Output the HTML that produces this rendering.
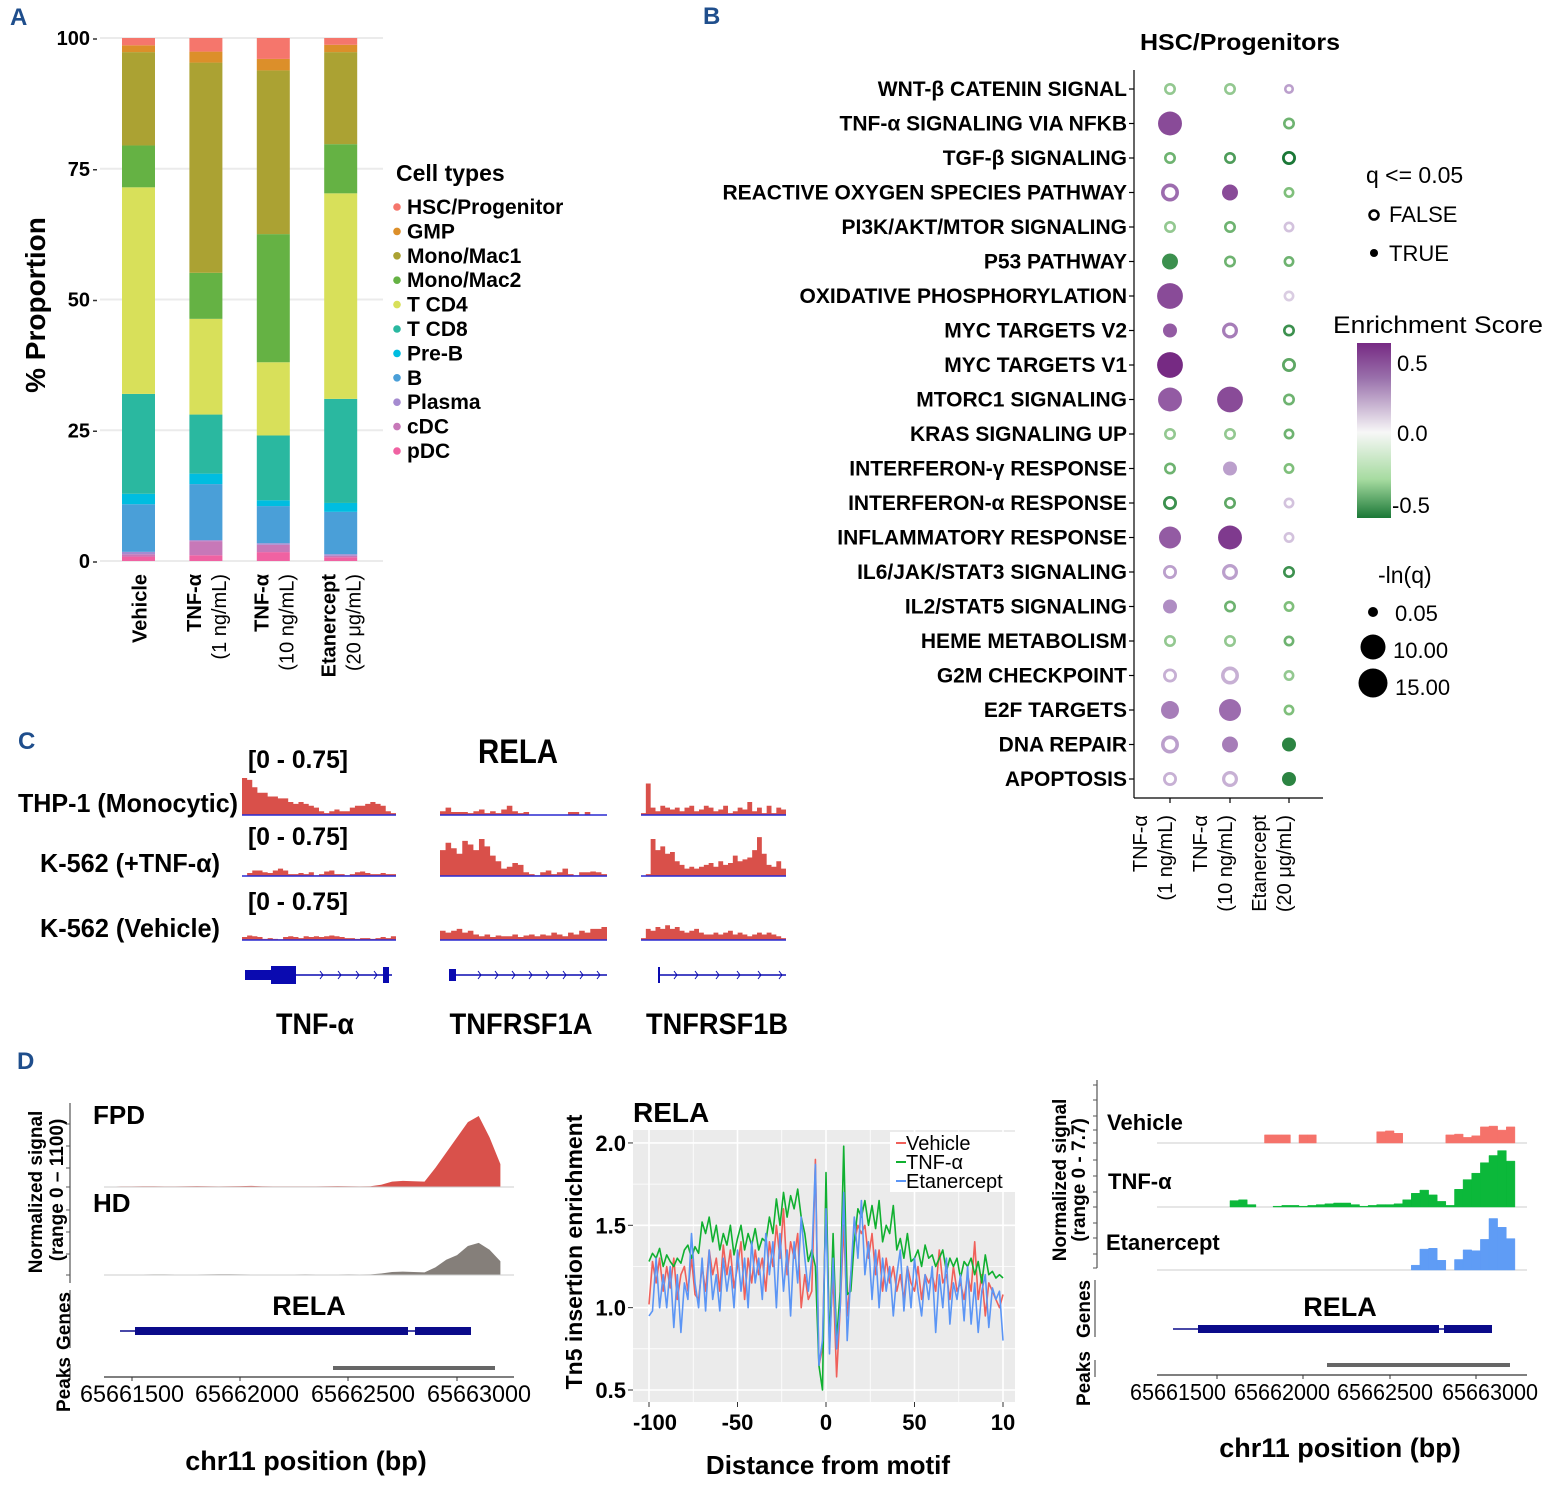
<!DOCTYPE html>
<html><head><meta charset="utf-8"><style>
html,body{margin:0;padding:0;background:#fff;}
svg{display:block;font-family:"Liberation Sans",Arial,sans-serif;}
.b{font-weight:bold;}
</style></head><body>
<svg id="fig" xmlns="http://www.w3.org/2000/svg" width="1552" height="1494" viewBox="0 0 1552 1494">
<defs>
<linearGradient id="esgrad" x1="0" y1="0" x2="0" y2="1">
<stop offset="0" stop-color="#762a83"/><stop offset="0.2" stop-color="#9970ab"/><stop offset="0.51" stop-color="#f7f7f7"/><stop offset="0.78" stop-color="#a6dba0"/><stop offset="1" stop-color="#1b7837"/>
</linearGradient>
</defs>
<text x="10" y="25" font-size="24" class="b" fill="#1f4e8c">A</text>
<text x="703" y="24" font-size="24" class="b" fill="#1f4e8c">B</text>
<text x="18" y="749" font-size="24" class="b" fill="#1f4e8c">C</text>
<text x="17" y="1069" font-size="24" class="b" fill="#1f4e8c">D</text>

<g id="pa">
<text transform="translate(45,305) rotate(-90)" text-anchor="middle" font-size="28" class="b">% Proportion</text>
<text x="396" y="181" font-size="23" class="b">Cell types</text>
</g>

<g id="pb">
<text x="1240" y="50" text-anchor="middle" font-size="23" class="b" textLength="200" lengthAdjust="spacingAndGlyphs">HSC/Progenitors</text>
<line x1="1134" y1="70" x2="1134" y2="798" stroke="#000" stroke-width="1.2"/>
<line x1="1134" y1="798" x2="1323" y2="798" stroke="#000" stroke-width="1.2"/>
<text x="1366" y="183" font-size="23">q &lt;= 0.05</text>
<circle cx="1374" cy="215" r="4.5" fill="#fff" stroke="#000" stroke-width="2.5"/>
<text x="1389" y="222" font-size="22">FALSE</text>
<circle cx="1374" cy="253" r="4" fill="#000"/>
<text x="1389" y="261" font-size="22">TRUE</text>
<text x="1333" y="333" font-size="24" textLength="210" lengthAdjust="spacingAndGlyphs">Enrichment Score</text>
<rect x="1357" y="343" width="34" height="175" fill="url(#esgrad)"/>
<text x="1397" y="371" font-size="22">0.5</text>
<text x="1397" y="441" font-size="22">0.0</text>
<text x="1392" y="513" font-size="22">-0.5</text>
<text x="1378" y="583" font-size="23">-ln(q)</text>
<circle cx="1373" cy="612" r="5" fill="#000"/>
<text x="1395" y="621" font-size="22">0.05</text>
<circle cx="1373" cy="647" r="12.5" fill="#000"/>
<text x="1393" y="658" font-size="22">10.00</text>
<circle cx="1373" cy="683" r="14.5" fill="#000"/>
<text x="1395" y="695" font-size="22">15.00</text>
</g>

<g id="pc">
<text x="518" y="763" text-anchor="middle" font-size="34" class="b" textLength="80" lengthAdjust="spacingAndGlyphs">RELA</text>
<text x="248" y="768" font-size="25" class="b" textLength="100" lengthAdjust="spacingAndGlyphs">[0 - 0.75]</text>
<text x="248" y="845" font-size="25" class="b" textLength="100" lengthAdjust="spacingAndGlyphs">[0 - 0.75]</text>
<text x="248" y="910" font-size="25" class="b" textLength="100" lengthAdjust="spacingAndGlyphs">[0 - 0.75]</text>
<text x="238" y="812" text-anchor="end" font-size="26" class="b" textLength="220" lengthAdjust="spacingAndGlyphs">THP-1 (Monocytic)</text>
<text x="220" y="872" text-anchor="end" font-size="26" class="b" textLength="180" lengthAdjust="spacingAndGlyphs">K-562 (+TNF-α)</text>
<text x="220" y="937" text-anchor="end" font-size="26" class="b" textLength="180" lengthAdjust="spacingAndGlyphs">K-562 (Vehicle)</text>
<text x="315" y="1034" text-anchor="middle" font-size="30" class="b" textLength="78" lengthAdjust="spacingAndGlyphs">TNF-α</text>
<text x="521" y="1034" text-anchor="middle" font-size="30" class="b" textLength="143" lengthAdjust="spacingAndGlyphs">TNFRSF1A</text>
<text x="717" y="1034" text-anchor="middle" font-size="30" class="b" textLength="142" lengthAdjust="spacingAndGlyphs">TNFRSF1B</text>
</g>

<g id="pdl">
<text transform="translate(42,1192) rotate(-90)" text-anchor="middle" font-size="19" class="b">Normalized signal</text>
<text transform="translate(63,1190) rotate(-90)" text-anchor="middle" font-size="19" class="b">(range 0 – 1100)</text>
<line x1="70" y1="1103" x2="70" y2="1283" stroke="#555" stroke-width="1.2"/>
<line x1="70" y1="1290" x2="70" y2="1348" stroke="#555" stroke-width="1.2"/>
<line x1="70" y1="1364" x2="70" y2="1380" stroke="#555" stroke-width="1.2"/>
<text transform="translate(70,1350) rotate(-90)" font-size="19" class="b">Genes</text>
<text transform="translate(70,1412) rotate(-90)" font-size="19" class="b">Peaks</text>
<text x="93" y="1124" font-size="26" class="b">FPD</text>
<text x="93" y="1212" font-size="26" class="b">HD</text>
<text x="309" y="1315" text-anchor="middle" font-size="27" class="b">RELA</text>
<line x1="104" y1="1377" x2="514" y2="1377" stroke="#333" stroke-width="1.2"/>
<text x="132" y="1402" text-anchor="middle" font-size="24" textLength="104" lengthAdjust="spacingAndGlyphs">65661500</text>
<text x="247" y="1402" text-anchor="middle" font-size="24" textLength="104" lengthAdjust="spacingAndGlyphs">65662000</text>
<text x="363" y="1402" text-anchor="middle" font-size="24" textLength="104" lengthAdjust="spacingAndGlyphs">65662500</text>
<text x="479" y="1402" text-anchor="middle" font-size="24" textLength="104" lengthAdjust="spacingAndGlyphs">65663000</text>
<text x="306" y="1470" text-anchor="middle" font-size="27" class="b">chr11 position (bp)</text>
</g>

<g id="pdm">
<rect x="633" y="1130" width="382" height="272" fill="#ebebeb"/>
<text x="633" y="1122" font-size="28" class="b">RELA</text>
<text transform="translate(582,1252) rotate(-90)" text-anchor="middle" font-size="23" class="b">Tn5 insertion enrichment</text>
<text x="828" y="1474" text-anchor="middle" font-size="26" class="b">Distance from motif</text>
</g>

<g id="pdr">
<text transform="translate(1066,1180) rotate(-90)" text-anchor="middle" font-size="19" class="b">Normalized signal</text>
<text transform="translate(1085,1180) rotate(-90)" text-anchor="middle" font-size="19" class="b">(range 0 - 7.7)</text>
<line x1="1097" y1="1080" x2="1097" y2="1268" stroke="#555" stroke-width="1.2"/>
<line x1="1095" y1="1280" x2="1095" y2="1337" stroke="#555" stroke-width="1.2"/>
<line x1="1095" y1="1360" x2="1095" y2="1377" stroke="#555" stroke-width="1.2"/>
<text transform="translate(1090,1338) rotate(-90)" font-size="19" class="b">Genes</text>
<text transform="translate(1090,1406) rotate(-90)" font-size="19" class="b">Peaks</text>
<text x="1107" y="1130" font-size="22" class="b">Vehicle</text>
<text x="1108" y="1189" font-size="22" class="b">TNF-α</text>
<text x="1106" y="1250" font-size="22" class="b">Etanercept</text>
<text x="1340" y="1316" text-anchor="middle" font-size="27" class="b">RELA</text>
<line x1="1157" y1="1375" x2="1527" y2="1375" stroke="#333" stroke-width="1.2"/>
<text x="1178" y="1400" text-anchor="middle" font-size="23" textLength="96" lengthAdjust="spacingAndGlyphs">65661500</text>
<text x="1282" y="1400" text-anchor="middle" font-size="23" textLength="96" lengthAdjust="spacingAndGlyphs">65662000</text>
<text x="1385" y="1400" text-anchor="middle" font-size="23" textLength="96" lengthAdjust="spacingAndGlyphs">65662500</text>
<text x="1490" y="1400" text-anchor="middle" font-size="23" textLength="96" lengthAdjust="spacingAndGlyphs">65663000</text>
<text x="1340" y="1457" text-anchor="middle" font-size="27" class="b">chr11 position (bp)</text>
</g>
</svg>
<script>
// ---------- Panel A data ----------
const cellTypes = ['HSC/Progenitor','GMP','Mono/Mac1','Mono/Mac2','T CD4','T CD8','Pre-B','B','Plasma','cDC','pDC'];
const cellColors = ['#f5766c','#dc8f2a','#aba233','#65b244','#d8e05a','#2ab8a0','#00bde0','#4a9fd8','#a58bd0','#c778b8','#f062a2'];
const conditionsA = ['Vehicle','TNF-α 1','TNF-α 10','Etanercept'];
const vehicleVals = [1.4,1.3,17.85,8.0,39.5,19.1,2.0,9.1,0.45,0.45,0.85];
const tnf1Vals = [2.6,2.1,40.2,8.8,18.3,11.3,2.0,10.7,0.2,2.7,1.1];
const tnf10Vals = [4.0,2.2,31.3,24.5,14.0,12.4,1.1,7.1,0.3,1.4,1.7];
const etanVals = [1.3,1.4,17.6,9.4,39.3,19.9,1.7,8.1,0.3,0.3,0.7];
const yTicksA = [0,25,50,75,100];

// ---------- Panel B data ----------
const pathways = ['WNT-β CATENIN SIGNAL','TNF-α  SIGNALING VIA NFKB','TGF-β SIGNALING','REACTIVE OXYGEN SPECIES PATHWAY','PI3K/AKT/MTOR SIGNALING','P53 PATHWAY','OXIDATIVE PHOSPHORYLATION','MYC TARGETS V2','MYC TARGETS V1','MTORC1 SIGNALING','KRAS SIGNALING UP','INTERFERON-γ RESPONSE','INTERFERON-α  RESPONSE','INFLAMMATORY RESPONSE','IL6/JAK/STAT3 SIGNALING','IL2/STAT5 SIGNALING','HEME METABOLISM','G2M CHECKPOINT','E2F TARGETS','DNA REPAIR','APOPTOSIS'];
const score1 = [-0.25,0.5,-0.35,0.4,-0.25,-0.5,0.5,0.45,0.6,0.45,-0.25,-0.35,-0.5,0.45,0.25,0.3,-0.25,0.2,0.35,0.25,0.2];
const sig1 = [0,1,0,0,0,1,1,1,1,1,0,0,0,1,0,1,0,0,1,0,0];
const size1 = [0.75,12,0.75,4.7,0.75,3,15,1.7,15,12,0.75,0.75,1.7,9.3,1.7,1.7,0.75,1.7,4.7,4.7,1.7];
const score2 = [-0.25,null,-0.45,0.5,-0.35,-0.35,null,0.35,null,0.5,-0.25,0.25,-0.4,0.55,0.25,-0.35,-0.25,0.2,0.4,0.35,0.2];
const sig2 = [0,0,0,1,0,0,0,0,0,1,0,1,0,1,0,0,0,0,1,1,0];
const size2 = [0.75,0,0.75,3,0.75,0.75,0,3,0,15,0.75,1.7,0.75,12,3,0.75,0.75,4.7,9.3,3,3];
const score3 = [0.25,-0.35,-0.6,-0.3,0.15,-0.35,0.12,-0.5,-0.4,-0.35,-0.35,-0.3,0.15,0.15,-0.5,-0.3,-0.35,-0.25,-0.3,-0.55,-0.55];
const sig3 = [0,0,0,0,0,0,0,0,0,0,0,0,0,0,0,0,0,0,0,1,1];
const size3 = [0.2,0.75,1.7,0.4,0.4,0.4,0.4,0.75,1.7,0.75,0.4,0.4,0.4,0.4,0.75,0.4,0.4,0.4,0.4,1.7,1.7];
const conditionsB = [['TNF-α','(1 ng/mL)'],['TNF-α','(10 ng/mL)'],['Etanercept','(20 μg/mL)']];

// ---------- Panel C data ----------
const thpTnf = [1,0.95,0.75,0.6,0.6,0.5,0.5,0.45,0.45,0.35,0.3,0.35,0.3,0.25,0.2,0.1,0.05,0.1,0.15,0.1,0.1,0.2,0.25,0.25,0.3,0.35,0.3,0.25,0.1,0.05];
const thp1a = [0.1,0.2,0.08,0.08,0.08,0.05,0.1,0.15,0.05,0.1,0.05,0.15,0.25,0.1,0.05,0.08,0,0,0,0,0,0,0,0.08,0.08,0,0.08,0,0,0];
const thp1b = [0.05,0.85,0.2,0.1,0.25,0.2,0.15,0.2,0.1,0.2,0.25,0.1,0.15,0.25,0.2,0.1,0.15,0.25,0.05,0.1,0.2,0.15,0.35,0.1,0.2,0.05,0.25,0.05,0.2,0.15];
const kTnfTnf = [0,0.08,0.15,0.15,0.1,0.08,0.15,0.2,0.15,0.05,0.05,0.08,0.05,0.1,0.02,0.05,0.12,0.15,0.05,0.05,0.02,0.05,0.1,0.12,0.08,0.05,0.05,0.08,0.05,0.05];
const kTnf1a = [0.7,0.9,0.75,0.6,0.95,0.85,0.7,1.0,0.8,0.55,0.4,0.2,0.25,0.35,0.3,0.1,0.05,0.02,0.1,0.15,0.05,0.1,0.2,0.05,0.02,0.1,0.1,0.12,0.1,0.05];
const kTnf1b = [0,0.05,1.0,0.7,0.8,0.6,0.65,0.4,0.3,0.2,0.25,0.2,0.25,0.3,0.35,0.25,0.4,0.3,0.35,0.55,0.4,0.45,0.5,0.7,1.05,0.6,0.3,0.25,0.4,0.2];
const kVehTnf = [0.08,0.12,0.1,0.08,0.03,0.05,0.03,0.02,0.08,0.1,0.08,0.05,0.1,0.08,0.1,0.08,0.1,0.12,0.1,0.08,0.05,0.05,0.03,0.05,0.05,0.03,0.05,0.08,0.05,0.1];
const kVeh1a = [0.25,0.2,0.25,0.3,0.2,0.25,0.15,0.1,0.15,0.08,0.12,0.1,0.1,0.15,0.08,0.12,0.15,0.1,0.15,0.12,0.2,0.15,0.1,0.2,0.15,0.25,0.2,0.3,0.3,0.35];
const kVeh1b = [0.05,0.3,0.25,0.35,0.3,0.4,0.3,0.35,0.25,0.2,0.25,0.3,0.2,0.15,0.15,0.2,0.15,0.2,0.25,0.15,0.2,0.15,0.1,0.15,0.2,0.15,0.2,0.15,0.1,0.05];

// ---------- Panel D left data ----------
const fpdSignal = [5,8,8,10,10,8,8,10,12,10,8,10,12,14,10,8,8,8,8,8,10,12,10,8,10,30,70,80,75,70,250,450,650,850,930,650,300];
const hdSignal = [3,5,5,6,8,8,6,5,6,8,10,10,8,6,6,5,5,6,8,6,5,6,8,6,8,20,40,45,40,35,100,200,260,380,420,330,180];
// ---------- Panel D middle data ----------
const motifPos = Array.from({length:101},(_,i)=>-100+2*i);
const vehicleEnrich = [1.02,1.28,1.15,1.3,1.1,1.25,1.12,1.3,1.05,1.2, 1.25,1.1,1.3,1.08,1.05,1.25,1.1,1.35,1.2,1.3, 1.1,1.38,1.2,1.35,1.12,1.25,1.4,1.05,1.3,1.15, 1.35,1.2,1.3,1.1,1.4,1.25,1.5,1.3,1.6,1.2, 1.4,1.3,1.45,1.0,1.2,1.05,1.1,1.9,0.65,0.75, 1.7,0.8,1.2,0.58,1.0,1.5,0.95,1.2,1.4,1.5, 1.45,1.5,1.3,1.45,1.2,1.35,1.1,1.3,1.15,1.25, 1.1,1.2,1.05,1.25,1.15,1.1,1.25,1.05,1.2,1.15, 1.2,1.1,1.35,1.15,1.2,1.05,1.25,1.1,1.15,1.05, 1.2,1.1,1.4,1.05,1.2,0.95,1.15,1.1,1.05,1.0,1.08];
const tnfEnrich = [1.28,1.33,1.3,1.36,1.25,1.32,1.28,1.25,1.3,1.27, 1.35,1.38,1.3,1.37,1.33,1.52,1.45,1.55,1.4,1.5, 1.35,1.45,1.38,1.5,1.32,1.42,1.5,1.35,1.45,1.38, 1.48,1.35,1.42,1.4,1.55,1.45,1.66,1.5,1.7,1.55, 1.68,1.6,1.72,1.55,1.45,1.28,1.35,1.25,0.65,0.5, 1.82,0.75,1.45,0.8,1.1,1.98,1.08,1.1,1.4,1.6, 1.55,1.65,1.5,1.62,1.48,1.65,1.4,1.5,1.45,1.62, 1.35,1.42,1.3,1.45,1.28,1.3,1.35,1.25,1.38,1.3, 1.32,1.25,1.3,1.35,1.22,1.3,1.25,1.3,1.18,1.28, 1.25,1.3,1.2,1.28,1.15,1.32,1.2,1.22,1.18,1.2,1.18];
const etanEnrich = [0.95,0.98,1.3,1.0,1.2,1.0,1.25,0.88,1.2,0.85, 1.15,1.05,1.45,1.15,1.0,1.3,0.98,1.35,1.05,1.2, 0.98,1.3,1.1,1.25,1.0,1.35,1.1,1.3,1.0,1.4, 1.15,1.3,1.05,1.45,1.2,1.4,1.0,1.45,1.1,1.35, 0.95,1.4,1.15,1.55,1.3,1.1,1.3,1.87,0.65,0.8, 1.6,0.72,1.3,0.75,1.0,1.7,0.8,1.2,1.55,1.3, 1.65,1.2,1.4,1.05,1.35,1.0,1.3,1.1,1.25,0.95, 1.2,1.35,0.98,1.25,1.0,1.3,1.1,0.95,1.2,1.05, 1.25,0.85,1.2,1.0,1.3,0.9,1.15,1.05,1.2,0.92, 1.25,0.9,1.15,0.85,1.1,1.2,0.88,1.12,1.05,1.1,0.8];
const yTicksM = [0.5,1.0,1.5,2.0];
const xTicksM = [-100,-50,0,50,100];
const xTickLabelsM = ['-100','-50','0','50','10'];
// ---------- Panel D right data ----------
const vehSignalR = [0,0,0,0,0,0,0,0,0,0,0,0,1.0,1.0,1.0,0,1.0,1.0,0,0,0,0,0,0,0,1.4,1.5,1.2,0,0,0,0,0,1.0,1.1,0.7,0.9,2.0,2.1,1.6,2.0];
const tnfSignalR = [0,0,0,0,0,0,0,0,0.8,0.9,0.3,0,0,0.1,0.2,0.2,0.1,0.2,0.3,0.4,0.5,0.5,0.3,0.1,0.2,0.3,0.3,0.4,0.9,1.7,2.1,1.5,0.7,0.2,2.2,3.4,4.2,5.5,6.4,7.0,5.7];
const etanSignalR = [0,0,0,0,0,0,0,0,0,0,0,0,0,0,0,0,0,0,0,0,0,0,0,0,0,0,0,0,0,0.6,2.6,2.7,1.2,0,1.3,2.5,2.4,3.8,6.4,5.3,3.9];

const NS='http://www.w3.org/2000/svg';
const svg=document.getElementById('fig');
function mk(tag,attrs,parent){const el=document.createElementNS(NS,tag);for(const k in attrs)el.setAttribute(k,attrs[k]);(parent||svg).appendChild(el);return el;}

// ===== Panel A =====
const gA=document.getElementById('pa');
const yA=v=>561-v*5.23;
const barX=i=>122+i*67.4;
yTicksA.forEach(t=>{
  const gl=mk('line',{x1:100,x2:383,y1:yA(t),y2:yA(t),stroke:'#ebebeb','stroke-width':2},gA);
  
  
  const tl=mk('text',{x:90,y:yA(t)+7,'text-anchor':'end','font-size':20,'font-weight':'bold'},gA);
  tl.textContent=String(t);
  
  
  const tk=mk('line',{x1:93,x2:97,y1:yA(t)+1,y2:yA(t)+1,stroke:'#333','stroke-width':1.5},gA);
  
  
});
[vehicleVals,tnf1Vals,tnf10Vals,etanVals].forEach((vals,ci)=>{
  let acc=0;
  for(let k=vals.length-1;k>=0;k--){
    const y0=yA(acc), y1=yA(acc+vals[k]);
    const r=mk('rect',{x:barX(ci),y:y1,width:33,height:Math.max(0,y0-y1),fill:cellColors[k]},gA);
    
    
    acc+=vals[k];
  }
});
const xLabA=[['Vehicle',null],['TNF-α','(1 ng/mL)'],['TNF-α','(10 ng/mL)'],['Etanercept','(20 μg/mL)']];
xLabA.forEach((l,i)=>{
  const cx=barX(i)+16.5;
  if(!l[1]){
    const t=mk('text',{transform:`translate(${cx+8},574) rotate(-90)`,'text-anchor':'end','font-size':20,'font-weight':'bold'},gA);
    t.textContent=l[0];
    
    
  } else {
    const t1=mk('text',{transform:`translate(${cx-5},574) rotate(-90)`,'text-anchor':'end','font-size':20,'font-weight':'bold'},gA);
    t1.textContent=l[0];
    
    
    const t2=mk('text',{transform:`translate(${cx+20},574) rotate(-90)`,'text-anchor':'end','font-size':20},gA);
    t2.textContent=l[1];
    
    
  }
});
cellTypes.forEach((c,i)=>{
  const y=207+i*24.4;
  const d=mk('circle',{cx:397,cy:y,r:3.8,fill:cellColors[i]},gA);
  
  
  const t=mk('text',{x:407,y:y+7,'font-size':21,'font-weight':'bold'},gA);
  t.textContent=c;
  
  
});

// ===== Panel B =====
const gB=document.getElementById('pb');
const rowY=i=>89+i*34.5;
const colX=[1170,1230,1289];
const stops=[[-0.6,[27,120,55]],[-0.3,[127,191,123]],[0,[247,247,247]],[0.3,[175,141,195]],[0.6,[118,42,131]]];
function esColor(s){s=Math.max(-0.6,Math.min(0.6,s));for(let k=0;k<stops.length-1;k++){const a=stops[k],b=stops[k+1];if(s<=b[0]){const t=(s-a[0])/(b[0]-a[0]);const c=a[1].map((v,j)=>Math.round(v+(b[1][j]-v)*t));return `rgb(${c.join(',')})`;}}return 'rgb(118,42,131)';}
pathways.forEach((p,i)=>{
  const t=mk('text',{x:1127,y:rowY(i)+7,'text-anchor':'end','font-size':21,'font-weight':'bold'},gB);
  t.textContent=p;
  
  
  const tk=mk('line',{x1:1129,x2:1134,y1:rowY(i),y2:rowY(i),stroke:'#000','stroke-width':1.2},gB);
  
  
});
[[score1,sig1,size1],[score2,sig2,size2],[score3,sig3,size3]].forEach((ser,ci)=>{
  const tk=mk('line',{x1:colX[ci],x2:colX[ci],y1:798,y2:803,stroke:'#000','stroke-width':1.2},gB);
  
  
  ser[0].forEach((s,i)=>{
    if(s===null)return;
    const R=4+Math.sqrt(ser[2][i])*2.3;
    const col=esColor(s);
    let c;
    if(ser[1][i]){
      c=mk('circle',{cx:colX[ci],cy:rowY(i),r:R,fill:col},gB);
    } else {
      const sw=Math.max(2.6,R*0.4);
      c=mk('circle',{cx:colX[ci],cy:rowY(i),r:R-sw/2,fill:'#fff',stroke:col,'stroke-width':sw},gB);
    }
    
    
  });
  const l1=mk('text',{transform:`translate(${colX[ci]-23},815) rotate(-90)`,'text-anchor':'end','font-size':20},gB);
  l1.textContent=conditionsB[ci][0];
  
  
  const l2=mk('text',{transform:`translate(${colX[ci]+2},815) rotate(-90)`,'text-anchor':'end','font-size':20},gB);
  l2.textContent=conditionsB[ci][1];
  
  
});

// ===== Panel C =====
const gC=document.getElementById('pc');
const colsC=[[242,396],[440,607],[641,786]];
const basesC=[815,876,940];
const dataC=[[thpTnf,thp1a,thp1b],[kTnfTnf,kTnf1a,kTnf1b],[kVehTnf,kVeh1a,kVeh1b]];
dataC.forEach((row,ri)=>{
  row.forEach((vals,ci)=>{
    const [x0,x1]=colsC[ci];const base=basesC[ri];const w=(x1-x0)/vals.length;
    let d=`M${x0},${base}`;
    vals.forEach((v,k)=>{const y=base-v*37;d+=` L${x0+k*w},${y} L${x0+(k+1)*w},${y}`;});
    d+=` L${x1},${base} Z`;
    const p=mk('path',{d:d,fill:'#d9504a'},gC);
    
    
    const bl=mk('line',{x1:x0,x2:x1,y1:base,y2:base,stroke:'#2a2ad0','stroke-width':1.5},gC);
    
    
  });
});
function geneShape(tag,attrs,name){const e=mk(tag,attrs,gC);return e;}
geneShape('line',{x1:245,x2:392,y1:975,y2:975,stroke:'#0a0ab0','stroke-width':1.5},'gene-model-tnf-intron');
geneShape('rect',{x:245,y:970,width:26,height:10,fill:'#0a0ab0'},'gene-model-tnf-utr');
geneShape('rect',{x:271,y:966,width:25,height:18,fill:'#0a0ab0'},'gene-model-tnf-exon');
geneShape('rect',{x:383,y:967,width:6,height:16,fill:'#0a0ab0'},'gene-model-tnf-exon');
geneShape('line',{x1:452,x2:607,y1:975,y2:975,stroke:'#0a0ab0','stroke-width':1.5},'gene-model-tnfrsf1a');
geneShape('rect',{x:449,y:969,width:7,height:12,fill:'#0a0ab0'},'gene-model-tnfrsf1a-exon');
geneShape('line',{x1:659,x2:786,y1:975,y2:975,stroke:'#0a0ab0','stroke-width':1.5},'gene-model-tnfrsf1b');
geneShape('rect',{x:658,y:967,width:2,height:16,fill:'#0a0ab0'},'gene-model-tnfrsf1b-exon');
[[322,340,358,376],[480,497,514,531,548,565,582,599],[676,697,718,739,760,781]].forEach(xs=>xs.forEach(x=>{
  geneShape('path',{d:`M${x-2},${971} L${x+1},${975} L${x-2},${979}`,fill:'none',stroke:'#0a0ab0','stroke-width':1},'strand-arrow');
}));

// ===== Panel D left =====
const gL=document.getElementById('pdl');
const xL=bp=>132+(bp-65661500)*0.2167;
function areaPath(vals,start,step,xf,base,scale,x0,x1){
  let d=`M${x0},${base}`;
  vals.forEach((v,k)=>{d+=` L${xf(start+k*step)},${base-v*scale}`;});
  d+=` L${x1},${base} Z`;return d;
}
[[fpdSignal,1187,'#d9514b','fpd-signal-area'],[hdSignal,1275,'#857f7a','hd-signal-area']].forEach(([vals,base,col,name])=>{
  const p=mk('path',{d:areaPath(vals,65661400,50,xL,base,84/1100,xL(65661400),xL(65661400+50*(vals.length-1))),fill:col},gL);
  
  
  const bl=mk('line',{x1:104,x2:514,y1:base,y2:base,stroke:'#ccc','stroke-width':1},gL);
  
  
});
[1124,1146,1168,1187,1210,1232,1254,1275].forEach(y=>{
  const t=mk('line',{x1:66,x2:70,y1:y,y2:y,stroke:'#555'},gL);
  
  
});
function dshape(g,tag,attrs,name){const e=mk(tag,attrs,g);return e;}
dshape(gL,'line',{x1:120,x2:135,y1:1331,y2:1331,stroke:'#0b0b8a','stroke-width':1.5},'gene-intron');
dshape(gL,'rect',{x:135,y:1327,width:273,height:8,fill:'#0b0b8a'},'gene-exon');
dshape(gL,'line',{x1:408,x2:415,y1:1331,y2:1331,stroke:'#0b0b8a','stroke-width':1.5},'gene-intron');
dshape(gL,'rect',{x:415,y:1327,width:56,height:8,fill:'#0b0b8a'},'gene-exon');
dshape(gL,'rect',{x:333,y:1366,width:162,height:4,fill:'#666'},'peak-region');
[132,240,348,457].forEach(x=>dshape(gL,'line',{x1:x,x2:x,y1:1377,y2:1381,stroke:'#333'},'x-tick'));

// ===== Panel D middle =====
const gM=document.getElementById('pdm');
const xM=v=>649+(v+100)*1.77;
const yM=v=>1390-(v-0.5)*164.7;
[0.75,1.25,1.75].forEach(v=>dshape(gM,'line',{x1:633,x2:1015,y1:yM(v),y2:yM(v),stroke:'#fff','stroke-width':0.8},'minor-gridline'));
[-75,-25,25,75].forEach(v=>dshape(gM,'line',{x1:xM(v),x2:xM(v),y1:1130,y2:1402,stroke:'#fff','stroke-width':0.8},'minor-gridline'));
yTicksM.forEach(v=>{
  dshape(gM,'line',{x1:633,x2:1015,y1:yM(v),y2:yM(v),stroke:'#fff','stroke-width':1.6},'gridline');
  dshape(gM,'line',{x1:628,x2:633,y1:yM(v),y2:yM(v),stroke:'#333'},'y-tick');
  const t=mk('text',{x:626,y:yM(v)+8,'text-anchor':'end','font-size':22,'font-weight':'bold'},gM);
  t.textContent=v.toFixed(1);
  
  
});
xTicksM.forEach((v,i)=>{
  dshape(gM,'line',{x1:xM(v),x2:xM(v),y1:1130,y2:1402,stroke:'#fff','stroke-width':1.6},'gridline');
  dshape(gM,'line',{x1:xM(v),x2:xM(v),y1:1402,y2:1407,stroke:'#333'},'x-tick');
  const t=mk('text',{x:xM(v)+(i===0?6:0),y:1430,'text-anchor':'middle','font-size':22,'font-weight':'bold'},gM);
  t.textContent=xTickLabelsM[i];
  
  
});
[[vehicleEnrich,'#f0605a','line-vehicle'],[tnfEnrich,'#10b030','line-tnf'],[etanEnrich,'#5b95f5','line-etanercept']].forEach(([vals,col,name])=>{
  const pts=vals.map((v,k)=>`${xM(motifPos[k]).toFixed(1)},${yM(v).toFixed(1)}`).join(' ');
  const pl=mk('polyline',{points:pts,fill:'none',stroke:col,'stroke-width':1.6,'stroke-linejoin':'round'},gM);
  
  
});
dshape(gM,'rect',{x:890,y:1132,width:126,height:60,fill:'#fff'},'legend-box');
[['Vehicle','#f0605a',1143],['TNF-α','#10b030',1162],['Etanercept','#5b95f5',1181]].forEach(([lab,col,y])=>{
  dshape(gM,'line',{x1:896,x2:906,y1:y,y2:y,stroke:col,'stroke-width':2},'legend-key');
  const t=mk('text',{x:906,y:y+7,'font-size':20},gM);
  t.textContent=lab;
  
  
});

// ===== Panel D right =====
const gR=document.getElementById('pdr');
const xR=bp=>1217+(bp-65661500)*0.1727;
[[vehSignalR,1143,'#f5726a','vehicle-signal-area'],[tnfSignalR,1207,'#0cb83a','tnf-signal-area'],[etanSignalR,1270,'#5f9cf5','etanercept-signal-area']].forEach(([vals,base,col,name])=>{
  dshape(gR,'line',{x1:1157,x2:1527,y1:base,y2:base,stroke:'#ccc','stroke-width':1},'track-baseline');
  let d='';
  vals.forEach((v,k)=>{
    const bp=65661200+k*50;
    const xa=xR(bp-25), xb=xR(bp+25);
    if(v>0){d+=`M${xa.toFixed(1)},${base} L${xa.toFixed(1)},${(base-v/7.7*62).toFixed(1)} L${xb.toFixed(1)},${(base-v/7.7*62).toFixed(1)} L${xb.toFixed(1)},${base} Z `;}
  });
  const p=mk('path',{d:d,fill:col,stroke:col,'stroke-width':0.5},gR);
  
  
});
[1085,1100,1116,1130,1143,1160,1176,1192,1207,1223,1238,1254,1268].forEach(y=>dshape(gR,'line',{x1:1093,x2:1097,y1:y,y2:y,stroke:'#555'},'y-tick'));
dshape(gR,'line',{x1:1173,x2:1198,y1:1329,y2:1329,stroke:'#0b0b8a','stroke-width':1.5},'gene-intron');
dshape(gR,'rect',{x:1198,y:1325,width:241,height:8,fill:'#0b0b8a'},'gene-exon');
dshape(gR,'line',{x1:1439,x2:1444,y1:1329,y2:1329,stroke:'#0b0b8a','stroke-width':1.5},'gene-intron');
dshape(gR,'rect',{x:1444,y:1325,width:48,height:8,fill:'#0b0b8a'},'gene-exon');
dshape(gR,'rect',{x:1327,y:1363,width:183,height:4,fill:'#666'},'peak-region');
[1217,1303,1390,1476].forEach(x=>dshape(gR,'line',{x1:x,x2:x,y1:1375,y2:1379,stroke:'#333'},'x-tick'));
</script>
</body></html>
